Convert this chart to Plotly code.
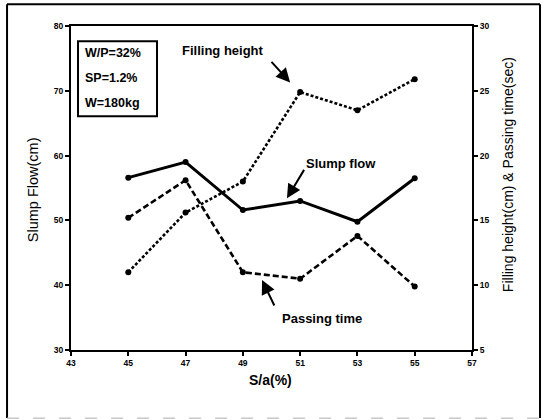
import plotly.graph_objects as go

# S/a ratio (%) tested
sa = [45, 47, 49, 51, 53, 55]

# Slump flow (cm) on the left axis
slump_flow = [56.6, 59.0, 51.6, 53.0, 49.8, 56.5]
# Filling height (cm) and passing time (sec) on the right axis
filling_height = [11.0, 15.6, 18.0, 24.9, 23.5, 25.9]
passing_time = [15.2, 18.1, 11.0, 10.5, 13.8, 9.9]

x_ticks = [43, 45, 47, 49, 51, 53, 55, 57]
left_ticks = [30, 40, 50, 60, 70, 80]
right_ticks = [5, 10, 15, 20, 25, 30]

mix_notes = ["W/P=32%", "SP=1.2%", "W=180kg"]

FONT = "Liberation Sans, Arial, sans-serif"
marker = dict(symbol="circle", size=6, color="black")

fig = go.Figure()
fig.add_trace(go.Scatter(x=sa, y=slump_flow, mode="lines+markers",
                         line=dict(color="black", width=3), marker=marker,
                         name="Slump flow", yaxis="y"))
fig.add_trace(go.Scatter(x=sa, y=passing_time, mode="lines+markers",
                         line=dict(color="black", width=2.6, dash="6px,3px"),
                         marker=marker, name="Passing time", yaxis="y2"))
fig.add_trace(go.Scatter(x=sa, y=filling_height, mode="lines+markers",
                         line=dict(color="black", width=2.6, dash="3px,2px"),
                         marker=marker, name="Filling height", yaxis="y2"))

tickfont = dict(family=FONT, size=8.5, color="black", weight="bold")
axis_common = dict(showgrid=False, zeroline=False, showline=True,
                   linecolor="black", linewidth=2, ticks="outside",
                   ticklen=4, tickwidth=1.5, tickcolor="black",
                   tickfont=tickfont)

fig.update_layout(
    width=545, height=419,
    margin=dict(l=71, r=73, t=26, b=69),
    paper_bgcolor="white", plot_bgcolor="white",
    showlegend=False,
    font=dict(family=FONT, color="black"),
    xaxis=dict(range=[43, 57], tickvals=x_ticks, mirror=True, **axis_common),
    yaxis=dict(range=[30, 80], tickvals=left_ticks, **axis_common),
    yaxis2=dict(range=[5, 30], tickvals=right_ticks, overlaying="y",
                side="right", **axis_common),
)

centered = dict(xref="paper", yref="paper", showarrow=False,
                xanchor="center", yanchor="middle")

annotations = []
# axis titles
annotations.append(dict(text="Slump Flow(cm)", x=-0.095, y=0.496,
                        textangle=-90, font=dict(size=14.5, color="black"),
                        **centered))
annotations.append(dict(text="Filling height(cm) & Passing time(sec)",
                        x=1.09, y=0.54, textangle=-90,
                        font=dict(size=14, color="black"), **centered))
annotations.append(dict(text="S/a(%)", x=0.498, y=-0.093,
                        font=dict(size=14, weight="bold", color="black"),
                        **centered))

# series labels
label_font = dict(size=13, weight="bold", color="black")
annotations.append(dict(text="Filling height", x=0.379, y=0.923,
                        font=label_font, **centered))
annotations.append(dict(text="Slump flow", x=0.673, y=0.576,
                        font=label_font, **centered))
annotations.append(dict(text="Passing time", x=0.626, y=0.096,
                        font=label_font, **centered))

# pointer arrows
arrow = dict(text="", showarrow=True, arrowhead=2, arrowsize=1.4,
             arrowwidth=2, arrowcolor="black", xref="x", yref="y")
annotations.append(dict(x=50.65, y=71.3, ax=-20, ay=-22, **arrow))
annotations.append(dict(x=50.54, y=53.4, ax=18, ay=-30, **arrow))
annotations.append(dict(x=49.67, y=40.8, ax=13, ay=27, **arrow))

# mix proportion notes
for i, note in enumerate(mix_notes):
    annotations.append(dict(text=note, x=0.03, y=0.918 - i * 0.078,
                            xref="paper", yref="paper", showarrow=False,
                            xanchor="left", yanchor="middle",
                            font=dict(size=12.5, weight="bold",
                                      color="black")))

fig.update_layout(annotations=annotations)

shapes = [
    # box around the mix notes
    dict(type="rect", xref="paper", yref="paper", x0=0.0175, x1=0.2145,
         y0=0.7216, y1=0.953, line=dict(color="black", width=2)),
    # outer frame
    dict(type="line", xref="paper", yref="paper", x0=-0.1595, x1=-0.1595,
         y0=-0.21, y1=1.067, line=dict(color="black", width=2)),
    dict(type="line", xref="paper", yref="paper", x0=-0.1595, x1=1.1696,
         y0=1.067, y1=1.067, line=dict(color="black", width=2)),
    dict(type="line", xref="paper", yref="paper", x0=1.1696, x1=1.1696,
         y0=-0.21, y1=1.067, line=dict(color="black", width=2)),
    dict(type="line", xref="paper", yref="paper", x0=-0.1595, x1=1.1696,
         y0=-0.2115, y1=-0.2115,
         line=dict(color="#c8c8c8", width=2, dash="12px,14px")),
]
fig.update_layout(shapes=shapes)

fig.write_html("out.html")
